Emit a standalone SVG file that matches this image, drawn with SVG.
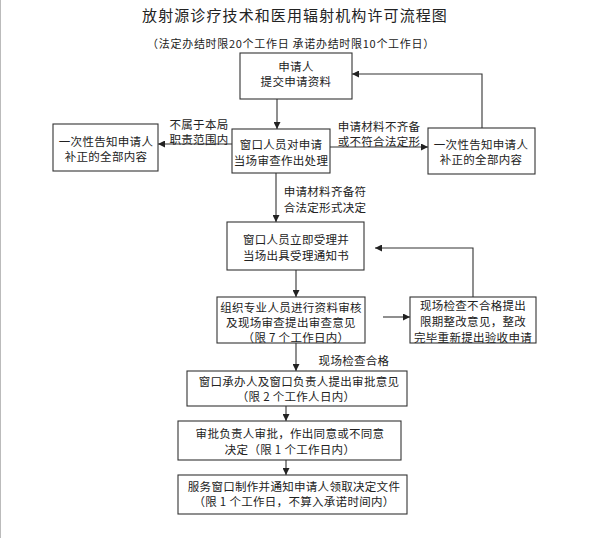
<svg xmlns="http://www.w3.org/2000/svg" width="591" height="538" viewBox="0 0 591 538">
<style>
text{font-family:"Noto Sans CJK SC","Liberation Serif",sans-serif;fill:#222;font-size:11.5px;dominant-baseline:central;text-anchor:middle;letter-spacing:0.3px}
.box{fill:#fff;stroke:#333;stroke-width:1.1}
.ln{fill:none;stroke:#333;stroke-width:1.1}
.title{font-size:15px;letter-spacing:1.1px}
.sub{font-size:11px;letter-spacing:0.7px}
</style>
<defs>
<marker id="ah" viewBox="0 0 10 10" refX="10" refY="5" markerWidth="7" markerHeight="7" markerUnits="userSpaceOnUse" orient="auto">
<path d="M0,0 L10,5 L0,10 Z" fill="#222"/>
</marker>
</defs>
<rect width="591" height="538" fill="#fff"/>
<line x1="0.5" y1="0" x2="0.5" y2="538" stroke="#bbb" stroke-width="1"/>
<text class="title" x="295" y="14">放射源诊疗技术和医用辐射机构许可流程图</text>
<text class="sub" x="291" y="43">（法定办结时限20个工作日  承诺办结时限10个工作日）</text>

<g id="connectors">
<line class="ln" x1="277" y1="99" x2="277" y2="129" marker-end="url(#ah)"/>
<line class="ln" x1="232" y1="144" x2="158" y2="144" marker-end="url(#ah)"/>
<line class="ln" x1="330" y1="147" x2="428" y2="147" marker-end="url(#ah)"/>
<polyline class="ln" points="482,128 482,74 352,74" marker-end="url(#ah)"/>
<line class="ln" x1="276" y1="173" x2="276" y2="222" marker-end="url(#ah)"/>
<line class="ln" x1="296" y1="270" x2="296" y2="297" marker-end="url(#ah)"/>
<line class="ln" x1="383" y1="317" x2="410" y2="317" marker-end="url(#ah)"/>
<polyline class="ln" points="473,297 473,248 375,248" marker-end="url(#ah)"/>
<line class="ln" x1="296" y1="343" x2="296" y2="371" marker-end="url(#ah)"/>
<line class="ln" x1="286" y1="406" x2="286" y2="421" marker-end="url(#ah)"/>
<line class="ln" x1="286" y1="460" x2="286" y2="475" marker-end="url(#ah)"/>
<text x="199" y="124">不属于本局</text>
<text x="199" y="139">职责范围内</text>
<text x="379" y="126">申请材料不齐备</text>
<text x="379" y="141">或不符合法定形</text>
<text x="325" y="191">申请材料齐备符</text>
<text x="325" y="207">合法定形式决定</text>
<text x="354" y="360">现场检查合格</text>
</g>

<g id="n1">
<rect class="box" x="240" y="53" width="112" height="46"/>
<text x="296" y="66">申请人</text>
<text x="296" y="81">提交申请资料</text>
</g>
<g id="n2">
<rect class="box" x="53" y="124" width="105" height="47"/>
<text x="106" y="141">一次性告知申请人</text>
<text x="106" y="156">补正的全部内容</text>
</g>
<g id="n3">
<rect class="box" x="232" y="129" width="98" height="44"/>
<text x="281" y="144">窗口人员对申请</text>
<text x="281" y="160">当场审查作出处理</text>
</g>
<g id="n4">
<rect class="box" x="428" y="128" width="107" height="46"/>
<text x="481" y="144">一次性告知申请人</text>
<text x="481" y="159">补正的全部内容</text>
</g>
<g id="n5">
<rect class="box" x="227" y="222" width="137" height="48"/>
<text x="296" y="239">窗口人员立即受理并</text>
<text x="296" y="255">当场出具受理通知书</text>
</g>
<g id="n6">
<rect class="box" x="217" y="297" width="148" height="46"/>
<text x="291" y="307">组织专业人员进行资料审核</text>
<text x="291" y="322">及现场审查提出审查意见</text>
<text x="296" y="337">（限 7 个工作日内）</text>
</g>
<g id="n7">
<rect class="box" x="410" y="297" width="126" height="46"/>
<text x="473" y="305">现场检查不合格提出</text>
<text x="473" y="321">限期整改意见，整改</text>
<text x="473" y="337">完毕重新提出验收申请</text>
</g>
<g id="n8">
<rect class="box" x="187" y="371" width="220" height="35"/>
<text x="299" y="381">窗口承办人及窗口负责人提出审批意见</text>
<text x="296" y="396">（限 2 个工作人日内）</text>
</g>
<g id="n9">
<rect class="box" x="178" y="421" width="223" height="39"/>
<text x="290" y="433">审批负责人审批，作出同意或不同意</text>
<text x="290" y="449">决定（限 1 个工作日内）</text>
</g>
<g id="n10">
<rect class="box" x="178" y="475" width="229" height="39"/>
<text x="294" y="486">服务窗口制作并通知申请人领取决定文件</text>
<text x="294" y="501">（限 1 个工作日，不算入承诺时间内）</text>
</g>
</svg>
